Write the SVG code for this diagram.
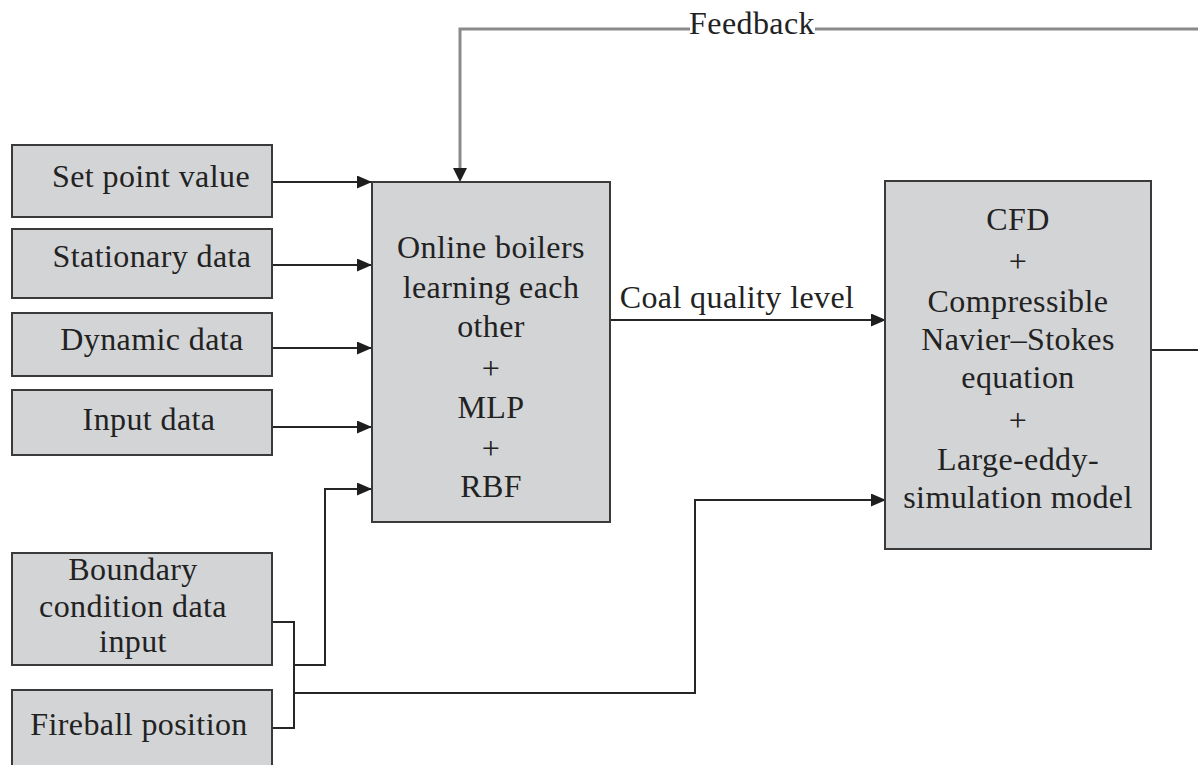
<svg xmlns="http://www.w3.org/2000/svg" width="1198" height="765" viewBox="0 0 1198 765">
  <style>
    .box { fill: #d3d4d6; stroke: #3a3a3a; stroke-width: 2; }
    .lbl { font-family: "Liberation Serif", "Times New Roman", serif; font-size: 32px; fill: #222222; text-anchor: middle; letter-spacing: 0.4px; }
    .wire { fill: none; stroke: #262626; stroke-width: 2; }
    .fb { fill: none; stroke: #8a8a8a; stroke-width: 3; }
  </style>
  <defs>
    <marker id="arrow" markerWidth="15" markerHeight="13" refX="14" refY="6.5" orient="auto" markerUnits="userSpaceOnUse">
      <path d="M0,0 L15,6.5 L0,13 Z" fill="#1e1e1e"/>
    </marker>
  </defs>

  <rect width="1198" height="765" fill="#ffffff"/>

  <!-- connectors -->
  <g id="connectors">
    <path class="wire" d="M272,182 H371" marker-end="url(#arrow)"/>
    <path class="wire" d="M272,265 H371" marker-end="url(#arrow)"/>
    <path class="wire" d="M272,348 H371" marker-end="url(#arrow)"/>
    <path class="wire" d="M272,427 H371" marker-end="url(#arrow)"/>
    <!-- boundary / fireball bracket -->
    <path class="wire" d="M272,622 H294 V728 H272"/>
    <path class="wire" d="M294,665 H325 V489 H371" marker-end="url(#arrow)"/>
    <path class="wire" d="M294,693 H695 V500 H885" marker-end="url(#arrow)"/>
    <!-- coal quality -->
    <path class="wire" d="M610,320 H885" marker-end="url(#arrow)"/>
    <text class="lbl" x="737" y="308">Coal quality level</text>
    <!-- output and feedback -->
    <path class="wire" d="M1151,350 H1198"/>
    <path class="fb" d="M1198,29 H815"/>
    <path class="fb" d="M690,29 H460 V170"/>
    <path d="M453,168 L467,168 L460,182 Z" fill="#1e1e1e"/>
    <text class="lbl" x="752" y="34">Feedback</text>
  </g>

  <g id="set-point">
    <rect class="box" x="12" y="145" width="260" height="72"/>
    <text class="lbl" x="151" y="187">Set point value</text>
  </g>
  <g id="stationary">
    <rect class="box" x="12" y="229" width="260" height="69"/>
    <text class="lbl" x="152" y="267">Stationary data</text>
  </g>
  <g id="dynamic">
    <rect class="box" x="12" y="313" width="260" height="63"/>
    <text class="lbl" x="152" y="350">Dynamic data</text>
  </g>
  <g id="input">
    <rect class="box" x="12" y="390" width="260" height="65"/>
    <text class="lbl" x="149" y="430">Input data</text>
  </g>
  <g id="boundary">
    <rect class="box" x="12" y="553" width="260" height="112"/>
    <text class="lbl" x="133" y="580">Boundary</text>
    <text class="lbl" x="133" y="617">condition data</text>
    <text class="lbl" x="133" y="652">input</text>
  </g>
  <g id="fireball">
    <rect class="box" x="12" y="690" width="260" height="80"/>
    <text class="lbl" x="139" y="735">Fireball position</text>
  </g>

  <g id="learning">
    <rect class="box" x="372" y="182" width="238" height="340"/>
    <text class="lbl" x="491" y="258">Online boilers</text>
    <text class="lbl" x="491" y="298">learning each</text>
    <text class="lbl" x="491" y="337">other</text>
    <text class="lbl" x="491" y="379">+</text>
    <text class="lbl" x="491" y="418">MLP</text>
    <text class="lbl" x="491" y="459">+</text>
    <text class="lbl" x="491" y="497">RBF</text>
  </g>

  <g id="cfd">
    <rect class="box" x="885" y="181" width="266" height="368"/>
    <text class="lbl" x="1018" y="230">CFD</text>
    <text class="lbl" x="1018" y="272">+</text>
    <text class="lbl" x="1018" y="312">Compressible</text>
    <text class="lbl" x="1018" y="350">Navier–Stokes</text>
    <text class="lbl" x="1018" y="388">equation</text>
    <text class="lbl" x="1018" y="431">+</text>
    <text class="lbl" x="1018" y="470">Large-eddy-</text>
    <text class="lbl" x="1018" y="508">simulation model</text>
  </g>
</svg>
